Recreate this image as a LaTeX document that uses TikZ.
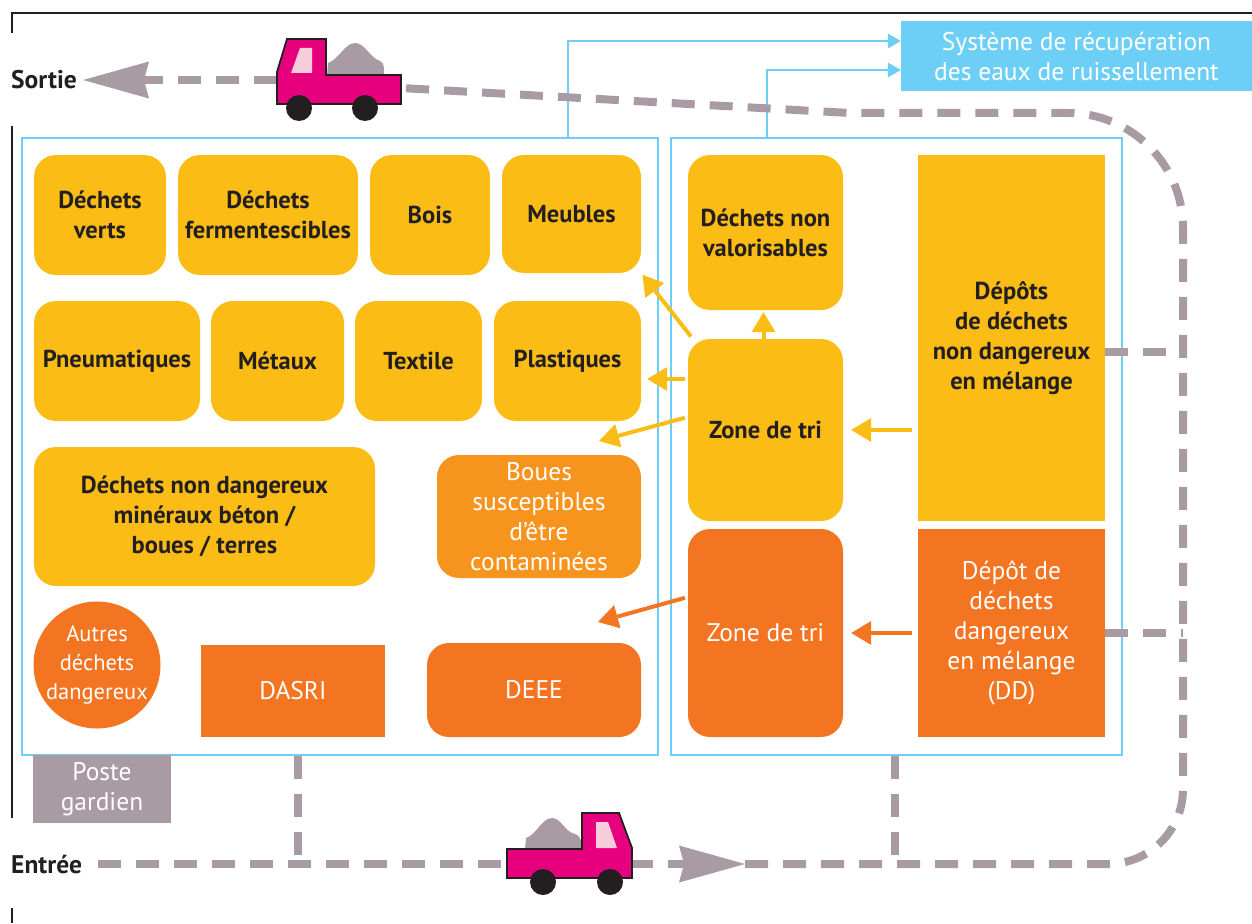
\documentclass[tikz,border=0pt]{standalone}
\usepackage{fontspec}
\setmainfont{PT Sans}
\usetikzlibrary{arrows.meta}
\definecolor{ye}{HTML}{FBBD15}
\definecolor{or1}{HTML}{F7941E}
\definecolor{or2}{HTML}{F37421}
\definecolor{bl}{HTML}{6DCFF6}
\definecolor{gr}{HTML}{A99BA4}
\definecolor{mag}{HTML}{E6007E}
\definecolor{pk}{HTML}{F7CDDB}
\definecolor{dk}{HTML}{231F20}
\tikzset{
  txt/.style={font=\fontsize{24.5}{30}\selectfont\bfseries, text=dk, align=center, inner sep=0pt},
  wtxt/.style={font=\fontsize{25.5}{30}\selectfont, text=white, align=center, inner sep=0pt},
  ybox/.style={txt, fill=ye, rounded corners=22pt},
  obox/.style={wtxt, fill=or2, rounded corners=22pt},
  frame/.style={draw=bl, line width=2.5pt, inner sep=0pt},
  road/.style={draw=gr, line width=8pt, dash pattern=on 23pt off 15pt},
  yarr/.style={draw=ye, line width=4pt, -{Triangle[length=20pt,width=24pt,line width=0pt]}, shorten <=3pt},
  oarr/.style={draw=or2, line width=4pt, -{Triangle[length=20pt,width=24pt,line width=0pt]}, shorten <=3pt},
  barr/.style={draw=bl, line width=2.5pt, -{Triangle[length=13pt,width=15pt,line width=0pt]}},
  bigtip/.style={-{Stealth[length=66pt,width=37pt,inset=5pt,line width=0pt]}},
  black line/.style={draw=dk, line width=2.5pt},
}
\begin{document}
\begin{tikzpicture}[x=1pt,y=-1pt]
\useasboundingbox (0,0) rectangle (1252,923);
% outer black lines
\draw[black line] (12,33) -- (12,13) -- (1252,13);
\draw[black line] (12,126) -- (12,818);
\draw[black line] (12,908) -- (12,923);

% frames
\node[frame, minimum width=636pt, minimum height=617pt] (lf) at (340,446.5) {};
\node[frame, minimum width=451pt, minimum height=617pt] (rf) at (896.5,446.5) {};

% system box
\node[wtxt, fill=bl, minimum width=351pt, minimum height=70pt] (sys) at (1076.5,56) {Système de récupération\\des eaux de ruissellement};

% left boxes
\node[ybox, minimum width=132pt, minimum height=120pt] (dv) at (100,215) {Déchets\\verts};
\node[ybox, minimum width=180pt, minimum height=120pt] (df) at (268,215) {Déchets\\fermentescibles};
\node[ybox, minimum width=120pt, minimum height=120pt] (bois) at (430,215) {Bois};
\node[ybox, minimum width=139pt, minimum height=118pt] (meub) at (571.5,214) {Meubles};
\node[ybox, minimum width=166pt, minimum height=120pt] (pneu) at (117,361) {Pneumatiques};
\node[ybox, minimum width=133pt, minimum height=120pt] (met) at (277.5,361) {Métaux};
\node[ybox, minimum width=127pt, minimum height=120pt] (tex) at (418.5,361) {Textile};
\node[ybox, minimum width=147pt, minimum height=120pt] (pla) at (567.5,361) {Plastiques};
\node[ybox, minimum width=341pt, minimum height=139pt] (dnd) at (204.5,516.5) {Déchets non dangereux\\minéraux béton /\\boues / terres};
\node[wtxt, fill=or1, rounded corners=22pt, minimum width=204pt, minimum height=123pt] (boues) at (539,516.5) {Boues\\susceptibles\\d’être\\contaminées};
\node[wtxt, font=\fontsize{22.5}{29}\selectfont, fill=or2, circle, inner sep=-12pt, minimum size=127pt] (autres) at (97,665) {Autres\\déchets\\dangereux};
\node[wtxt, fill=or2, minimum width=184pt, minimum height=92pt] (dasri) at (293,691) {DASRI};
\node[obox, minimum width=214pt, minimum height=94pt] (deee) at (534,690) {DEEE};

% right boxes
\node[ybox, minimum width=155pt, minimum height=155pt] (dnv) at (765.5,232.5) {Déchets non\\valorisables};
\node[ybox, minimum width=155pt, minimum height=182pt] (zt1) at (765.5,430) {Zone de tri};
\node[obox, minimum width=155pt, minimum height=208pt] (zt2) at (765.5,633) {Zone de tri};
\node[txt, fill=ye, minimum width=187pt, minimum height=366pt] (dep) at (1011.5,338) {Dépôts\\de déchets\\non dangereux\\en mélange};
\node[wtxt, fill=or2, minimum width=187pt, minimum height=208pt] (dd) at (1011.5,633) {Dépôt de\\déchets\\dangereux\\en mélange\\(DD)};

% poste gardien
\node[wtxt, fill=gr, minimum width=138pt, minimum height=68pt] (poste) at (102,789) {Poste\\gardien};

% labels
\node[txt, font=\fontsize{25.5}{30}\selectfont\bfseries, anchor=west] (sortie) at (11,80) {Sortie};
\node[txt, font=\fontsize{25.5}{30}\selectfont\bfseries, anchor=west] (entree) at (11,864) {Entrée};

% blue connectors
\draw[barr] ([xshift=228pt]lf.north) |- ([yshift=15pt]sys.west);
\draw[barr] ([xshift=-129.5pt]rf.north) |- ([yshift=-14pt]sys.west);

% yellow / orange arrows
\coordinate (t3) at (599,441);
\coordinate (t6) at (598,622);
\draw[yarr, shorten >=2pt] ([xshift=5pt]zt1.north west) -- (meub.south east);
\draw[yarr, shorten >=6pt] ([yshift=51pt]zt1.west) -- ([yshift=-18pt]pla.east);
\draw[yarr] ([yshift=13pt]zt1.west) -- (t3);
\draw[yarr, shorten >=2pt, shorten <=0pt] ([xshift=-2pt]zt1.north) -- ([xshift=-2pt]dnv.south);
\draw[yarr, shorten <=6pt, shorten >=8pt] (dep.west |- zt1.east) -- (zt1.east);
\draw[oarr] ([yshift=36pt]zt2.west) -- (t6);
\draw[oarr, shorten <=6pt, shorten >=8pt] (dd.west) -- (zt2.east);

% roads
\coordinate (atip) at (745,864);
\coordinate (t1r) at (401,88);
\coordinate (t1l) at (277,80);
\draw[road, bigtip, shorten >=6pt] (t1l) -- (sortie.east);
\draw[road, bigtip, shorten <=16pt] (entree.east) -- (atip);
\draw[road] (atip) -- (1108,864) .. controls (1149.4,864) and (1183,830.4) .. (1183,789)
  -- (1183,228) .. controls (1183,164.5) and (1131.5,113) .. (1068,113) -- (850,113) -- (t1r);
\draw[road] ([xshift=-42pt]lf.south) -- (298,864);
\draw[road] ([xshift=-1.5pt]rf.south) -- (895,864);
\draw[road] ([yshift=-14pt]dep.east) -- ++(78,0);
\draw[road] (dd.east) -- ++(78,0);

% truck 1 (facing left)
\fill[gr] (327,76) -- (328,63) .. controls (338,60) and (345,43) .. (355,43)
  .. controls (365,43) and (370,58) .. (380,61) .. controls (385,63) and (384,70) .. (384,76) -- cycle;
\draw[fill=mag, draw=dk, line width=1.8pt] (277,104) -- (277,72) -- (287,39) -- (326,39) -- (326,75) -- (401,75) -- (401,104) -- cycle;
\fill[pk] (300,48) -- (312,48) -- (312,73) -- (291,73) -- cycle;
\fill[dk] (299,108) circle (13) (365,108) circle (13);

% truck 2 (facing right)
\fill[gr] (525,850) -- (526,838) .. controls (536,835) and (542,818) .. (552,818)
  .. controls (561,818) and (565,832) .. (575,834) .. controls (582,836) and (582,845) .. (582,850) -- cycle;
\draw[fill=mag, draw=dk, line width=1.8pt] (507,878) -- (507,849) -- (582,849) -- (582,813) -- (619,813) -- (632,848) -- (632,878) -- cycle;
\fill[pk] (596,822) -- (608,822) -- (617,848) -- (596,848) -- cycle;
\fill[dk] (543,882) circle (13) (610,882) circle (13);
\end{tikzpicture}
\end{document}
